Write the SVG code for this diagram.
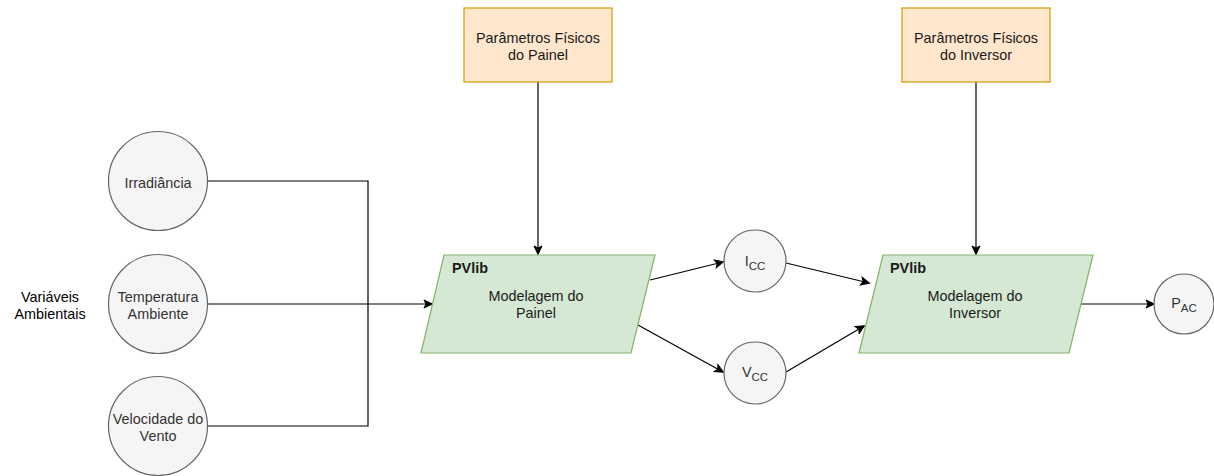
<svg xmlns="http://www.w3.org/2000/svg" width="1214" height="476" viewBox="0 0 1214 476">
  <style>
    text { font-family: "Liberation Sans", Arial, sans-serif; font-size: 14.4px; text-anchor: middle; }
    .var { fill: #f5f5f5; stroke: #666666; stroke-width: 1.2; }
    .var-t { fill: #333333; }
    .param { fill: #ffe6cc; stroke: #d79b00; stroke-width: 1.2; }
    .model { fill: #d5e8d4; stroke: #82b366; stroke-width: 1.2; }
    .dark { fill: #1a1a1a; }
    .bold { font-weight: bold; text-anchor: start; }
    .sub { font-size: 11.5px; }
    .edge { fill: none; stroke: #000000; stroke-width: 1.2; }
  </style>
  <defs>
    <marker id="arrow" viewBox="0 0 10 10" refX="9" refY="5" markerWidth="10" markerHeight="10" markerUnits="userSpaceOnUse" orient="auto">
      <path d="M1,1 L9.5,5 L1,9 L3,5 Z" fill="#000000" stroke="#000000" stroke-width="1"/>
    </marker>
  </defs>

  <rect width="1214" height="476" fill="#ffffff"/>

  <!-- connectors -->
  <g id="connectors">
    <polyline class="edge" points="208,181 368,181 368,304"/>
    <polyline class="edge" points="208,426 368,426 368,304"/>
    <line class="edge" x1="208" y1="304" x2="432" y2="304" marker-end="url(#arrow)"/>
    <line class="edge" x1="538" y1="82" x2="538" y2="254" marker-end="url(#arrow)"/>
    <line class="edge" x1="976" y1="82" x2="976" y2="254" marker-end="url(#arrow)"/>
    <line class="edge" x1="650" y1="280" x2="723" y2="262" marker-end="url(#arrow)"/>
    <line class="edge" x1="638" y1="325" x2="723" y2="372" marker-end="url(#arrow)"/>
    <line class="edge" x1="786" y1="263" x2="869" y2="283" marker-end="url(#arrow)"/>
    <line class="edge" x1="786" y1="372" x2="864" y2="326" marker-end="url(#arrow)"/>
    <line class="edge" x1="1081" y1="304" x2="1154" y2="304" marker-end="url(#arrow)"/>
  </g>

  <!-- group label -->
  <g id="label-variaveis">
    <text x="50" y="302">Variáveis</text>
    <text x="50" y="319">Ambientais</text>
  </g>

  <!-- environmental inputs -->
  <g id="irradiancia">
    <circle class="var" cx="158" cy="181" r="49.5"/>
    <text class="var-t" x="158" y="188">Irradiância</text>
  </g>
  <g id="temperatura">
    <circle class="var" cx="158" cy="304" r="49.5"/>
    <text class="var-t" x="158" y="302">Temperatura</text>
    <text class="var-t" x="158" y="319">Ambiente</text>
  </g>
  <g id="vento">
    <circle class="var" cx="158" cy="426" r="49.5"/>
    <text class="var-t" x="158" y="424">Velocidade do</text>
    <text class="var-t" x="158" y="441">Vento</text>
  </g>

  <!-- physical parameters -->
  <g id="param-painel">
    <rect class="param" x="464" y="8" width="148" height="74"/>
    <text class="dark" x="538" y="43">Parâmetros Físicos</text>
    <text class="dark" x="538" y="60">do Painel</text>
  </g>
  <g id="param-inversor">
    <rect class="param" x="902" y="8" width="148" height="74"/>
    <text class="dark" x="976" y="43">Parâmetros Físicos</text>
    <text class="dark" x="976" y="60">do Inversor</text>
  </g>

  <!-- models -->
  <g id="modelo-painel">
    <polygon class="model" points="444,255 655,255 631,353 421,353"/>
    <text class="dark bold" x="452" y="273">PVlib</text>
    <text class="dark" x="536" y="301">Modelagem do</text>
    <text class="dark" x="536" y="318">Painel</text>
  </g>
  <g id="modelo-inversor">
    <polygon class="model" points="883,255 1093,255 1069,353 859,353"/>
    <text class="dark bold" x="890" y="273">PVlib</text>
    <text class="dark" x="975" y="301">Modelagem do</text>
    <text class="dark" x="975" y="318">Inversor</text>
  </g>

  <!-- intermediate and output quantities -->
  <g id="icc">
    <circle class="var" cx="755" cy="261" r="31"/>
    <text class="var-t" x="755" y="266">I<tspan class="sub" dy="4">CC</tspan></text>
  </g>
  <g id="vcc">
    <circle class="var" cx="755" cy="373" r="31"/>
    <text class="var-t" x="755" y="377">V<tspan class="sub" dy="4">CC</tspan></text>
  </g>
  <g id="pac">
    <circle class="var" cx="1184" cy="304" r="30"/>
    <text class="var-t" x="1184" y="308">P<tspan class="sub" dy="4">AC</tspan></text>
  </g>
</svg>
